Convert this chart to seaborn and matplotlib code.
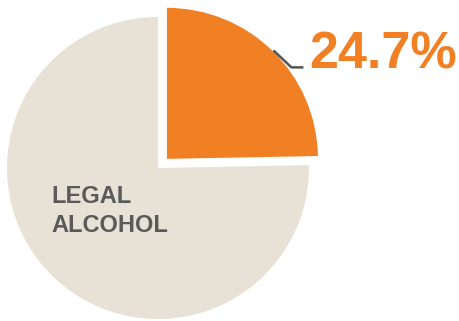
import numpy as np
import matplotlib
matplotlib.use("Agg")
import matplotlib.pyplot as plt
import seaborn as sns

# Share of the total by category
categories = ["OTHER", "LEGAL\nALCOHOL"]
shares = [24.7, 75.3]
slice_colors = ["#F17F23", "#E7E1D6"]
label_text = "24.7%"

sns.set_theme(style="white")
plt.rcParams["font.family"] = ["Liberation Sans", "DejaVu Sans"]

fig = plt.figure(figsize=(4.6, 3.21), dpi=100)
ax = fig.add_axes([0, 0, 1, 1])

center = (158, 153)
radius = 151
# pie() offsets exploded wedges in data units
explode = [12.8, 0.0]

wedges, _ = ax.pie(
    shares,
    colors=slice_colors,
    startangle=90,
    counterclock=False,
    explode=explode,
    radius=radius,
    center=center,
    wedgeprops=dict(linewidth=0),
    frame=True,
)
ax.set_xlim(0, 460)
ax.set_ylim(0, 321)
ax.set_aspect("auto")
ax.axis("off")

# Leader line from the middle of the highlighted slice's arc
w = wedges[0]
mid = np.deg2rad((w.theta1 + w.theta2) / 2)
cx, cy = w.center
sx, sy = cx + (w.r + 1) * np.cos(mid), cy + (w.r + 1) * np.sin(mid)
ax.plot([sx, sx + 18, sx + 30], [sy, sy - 17, sy - 17],
        color="#555555", lw=1.8, solid_capstyle="butt")
ax.text(sx + 36, sy - 18, label_text, color=slice_colors[0],
        fontsize=37.5, fontweight="bold", ha="left", va="baseline")

ax.text(51, 110, categories[1], color="#5A5A5A", fontsize=17,
        fontweight="bold", ha="left", va="center", linespacing=1.3)

fig.savefig("out.png", dpi=100)
